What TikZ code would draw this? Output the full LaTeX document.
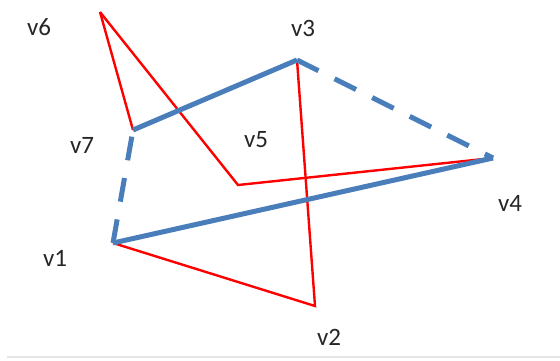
\documentclass[tikz,border=0pt]{standalone}
\usepackage{fontspec}
\setmainfont{Carlito}
\definecolor{edgeblue}{RGB}{74,126,187}

\begin{document}
\begin{tikzpicture}[x=1pt, y=-1pt,
    red edge/.style={draw=red, line width=2.4pt},
    blue edge/.style={draw=edgeblue, line width=5pt},
    blue dash/.style={blue edge, dash pattern=on 24pt off 18pt},
    vlabel/.style={font=\fontsize{25}{28}\selectfont, text=black!85}]
    \useasboundingbox (0,0) rectangle (560,360);
    % Vertices
    \coordinate (v1) at (113,243);
    \coordinate (v2) at (315,306);
    \coordinate (v3) at (297,60);
    \coordinate (v4) at (493,158);
    \coordinate (v5) at (238,185);
    \coordinate (v6) at (100,12);
    \coordinate (v7) at (133,130);
    % Labels
    \node[vlabel] (l1) at (55,258) {v1};
    \node[vlabel] (l2) at (329,337) {v2};
    \node[vlabel] (l3) at (303,28) {v3};
    \node[vlabel] (l4) at (510,203) {v4};
    \node[vlabel] (l5) at (256,140) {v5};
    \node[vlabel] (l6) at (39,27) {v6};
    \node[vlabel] (l7) at (82,145) {v7};
    % Red edges
    \draw[red edge] (v6) -- (v7);
    \draw[red edge] (v6) -- (v5) -- (v4);
    \draw[red edge] (v3) -- (v2) -- (v1);
    % Blue cycle
    \draw[blue edge] (v7) -- (v3);
    \draw[blue dash] (v3) -- (v4);
    \draw[blue edge] (v4) -- (v1);
    \draw[blue dash] (v1) -- (v7);
    % Bottom rule
    \draw[gray!20, line width=2pt] (7,357) -- (560,357);
\end{tikzpicture}
\end{document}
